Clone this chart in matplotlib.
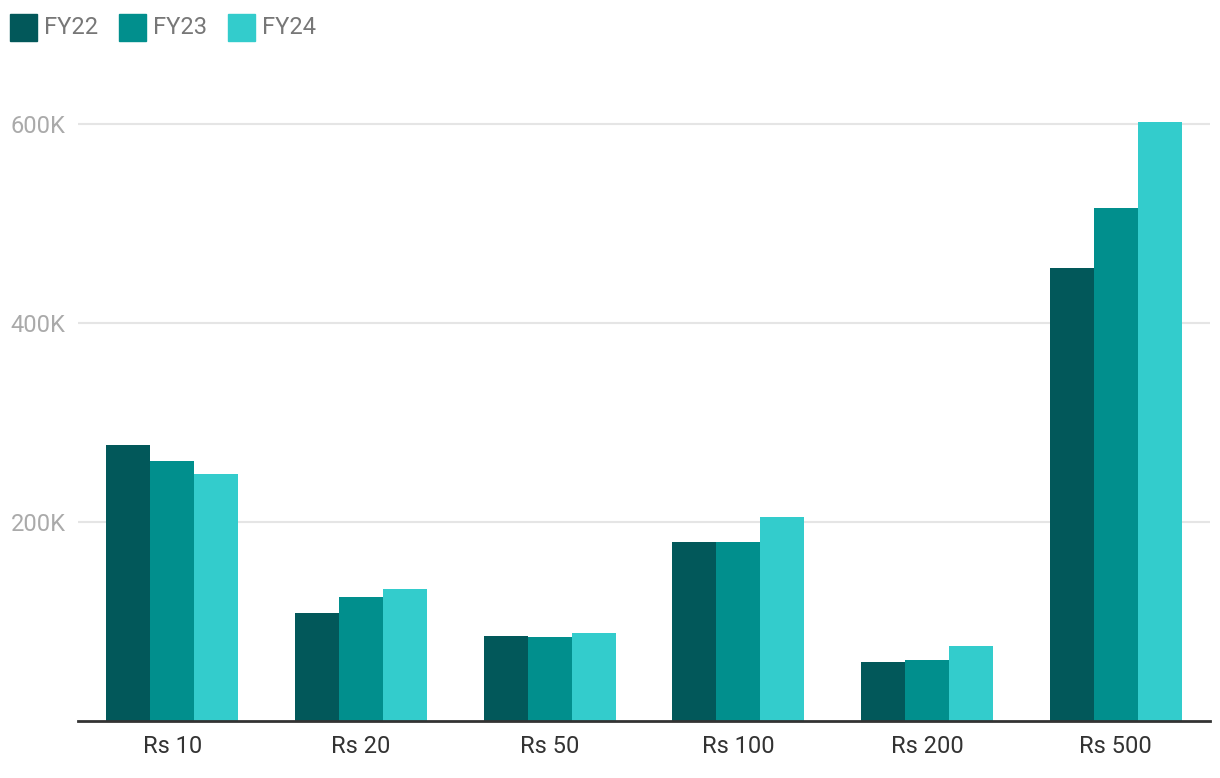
import numpy as np
import matplotlib
matplotlib.use("Agg")
import matplotlib.pyplot as plt
from matplotlib.patches import Rectangle
from matplotlib.ticker import FuncFormatter

categories = ["Rs 10", "Rs 20", "Rs 50", "Rs 100", "Rs 200", "Rs 500"]
series = ["FY22", "FY23", "FY24"]
fy22 = [277, 108.5, 85.5, 180, 59.5, 455]
fy23 = [261, 124.5, 84.5, 180, 61.5, 515.5]
fy24 = [248, 132.5, 88.5, 205, 75.5, 602]
colors = ["#02585a", "#018f8d", "#33cccc"]

plt.rcParams["font.family"] = ["Roboto", "DejaVu Sans"]

fig = plt.figure(figsize=(12.2, 7.78), dpi=100)
ax = fig.add_axes([78 / 1220, 57 / 778, 1132 / 1220, 621 / 778])

x = np.arange(len(categories))
width = 0.233
for i, (name, vals) in enumerate(zip(series, [fy22, fy23, fy24])):
    ax.bar(x + (i - 1) * width, np.array(vals) * 1000, width,
           color=colors[i], label=name, zorder=3)

ax.set_xlim(-0.5, len(categories) - 0.5)
ax.set_ylim(0, 624000)
ax.set_yticks([200000, 400000, 600000])
ax.yaxis.set_major_formatter(FuncFormatter(lambda v, p: "%dK" % (v / 1000)))
ax.set_xticks(x)
ax.set_xticklabels(categories)
ax.grid(axis="y", color="#e5e5e5", linewidth=1.5, zorder=0)

for s in ["top", "right", "left"]:
    ax.spines[s].set_visible(False)
ax.spines["bottom"].set_color("#333333")
ax.spines["bottom"].set_linewidth(2)
ax.spines["bottom"].set_zorder(4)

ax.tick_params(axis="y", length=0, pad=9, labelsize=17, labelcolor="#aaaaaa")
ax.tick_params(axis="x", length=0, pad=10, labelsize=17, labelcolor="#333333")

# legend, drawn by hand at the top left
lx = 10
for name, c in zip(series, colors):
    fig.add_artist(Rectangle((lx / 1220, 1 - 41 / 778), 27 / 1220, 27 / 778,
                             transform=fig.transFigure, color=c))
    fig.text((lx + 34) / 1220, 1 - 27 / 778, name, fontsize=17,
             color="#777777", va="center", ha="left")
    lx += 109

fig.savefig("out.png", dpi=100)
